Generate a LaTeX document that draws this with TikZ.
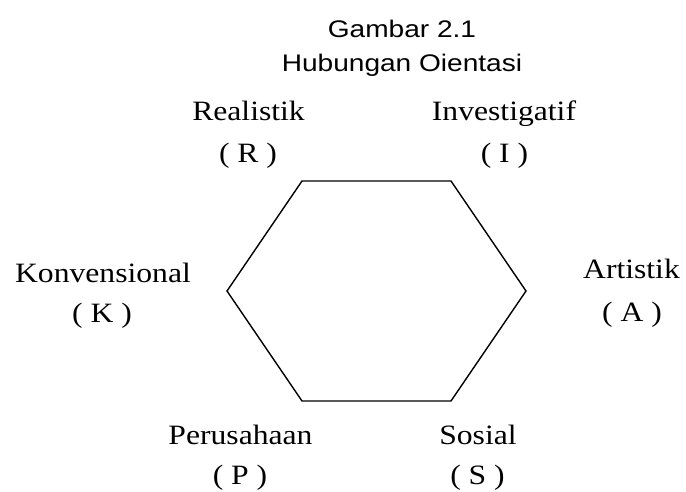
\documentclass[tikz,border=0pt]{standalone}
\usepackage{fontspec}
\setmainfont{Liberation Serif}
\newfontfamily\labelfont{Liberation Serif}[FakeStretch=1.13]
\newfontfamily\titlefont{Liberation Sans}[FakeStretch=1.17]
\usepackage{tikz}
\usetikzlibrary{positioning}

\begin{document}
\begin{tikzpicture}[
    x=1pt, y=-1pt,
    lbl/.style={font=\labelfont\fontsize{28}{30}\selectfont, anchor=base,
                inner sep=0pt},
    ttl/.style={font=\titlefont\fontsize{24}{26}\selectfont, anchor=base,
                inner sep=0pt},
    hexline/.style={line width=1.4pt, line join=miter}
  ]
    \useasboundingbox (0,0) rectangle (686,492);

    % title
    \node[ttl] (title1) at (402,38) {Gambar 2.1};
    \node[ttl] (title2) at (402,72) {Hubungan Oientasi};

    % hexagon corners
    \coordinate (hR) at (302,181);
    \coordinate (hI) at (451,181);
    \coordinate (hA) at (526,291);
    \coordinate (hS) at (451,401);
    \coordinate (hP) at (302,401);
    \coordinate (hK) at (227,291);
    \draw[hexline] (hR) -- (hI) -- (hA) -- (hS) -- (hP) -- (hK) -- cycle;

    % orientation labels
    \node[lbl] (real) at (248.5,121) {Realistik};
    \node[lbl] (realc) at (248,163) {( R )};
    \node[lbl] (inv) at (504,121) {Investigatif};
    \node[lbl] (invc) at (504.5,163) {( I )};
    \node[lbl] (konv) at (103,282) {Konvensional};
    \node[lbl] (konvc) at (102,322) {( K )};
    \node[lbl] (art) at (631.5,278) {Artistik};
    \node[lbl] (artc) at (632,321) {( A )};
    \node[lbl] (per) at (240.5,444) {Perusahaan};
    \node[lbl] (perc) at (240,484) {( P )};
    \node[lbl] (sos) at (478,444) {Sosial};
    \node[lbl] (sosc) at (477.5,484) {( S )};
  \end{tikzpicture}
\end{document}
